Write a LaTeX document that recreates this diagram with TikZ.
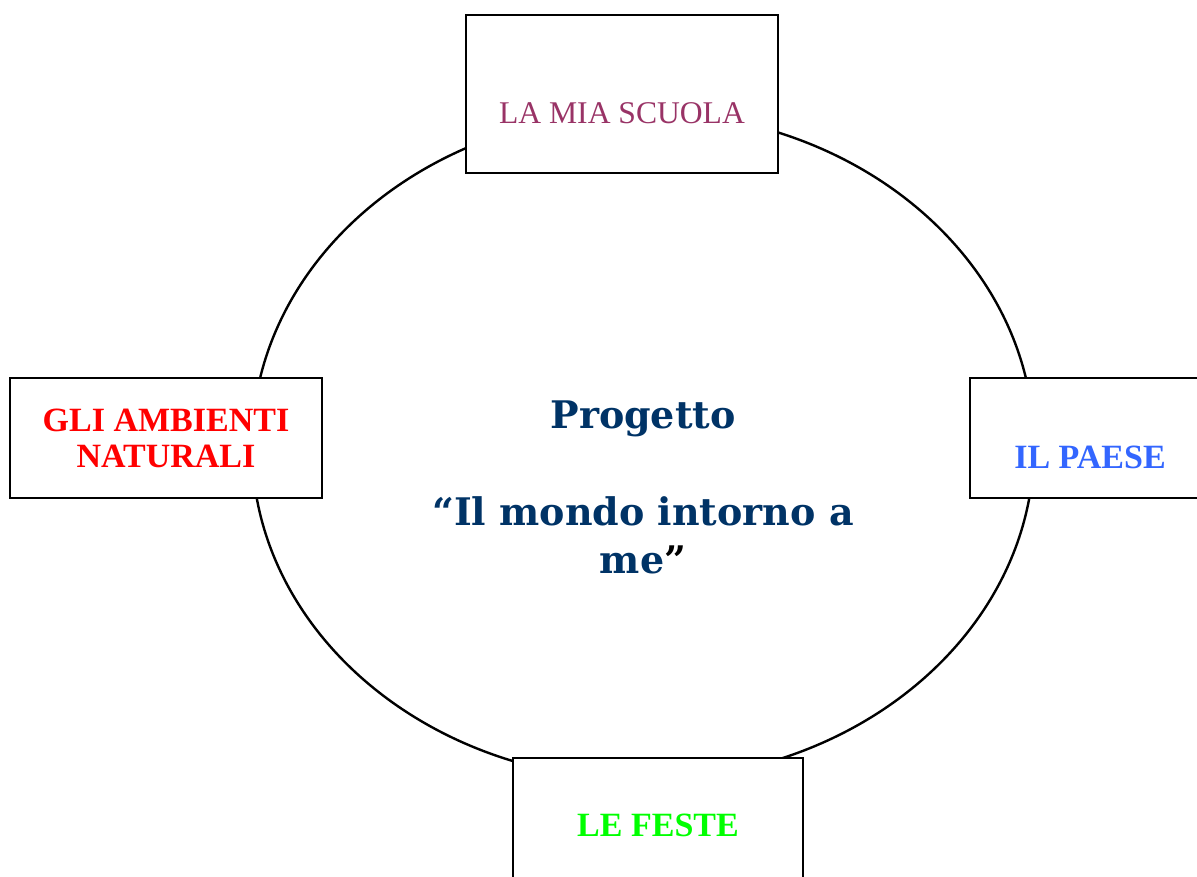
\documentclass[tikz,border=0pt]{standalone}
\usepackage{fontspec}
\setmainfont{Liberation Serif}
\newfontfamily\titolofont{DejaVu Serif}
\usetikzlibrary{shapes.geometric}

\definecolor{viola}{HTML}{993366}
\definecolor{blupaese}{HTML}{3366FF}
\definecolor{verde}{HTML}{00FF00}
\definecolor{blunotte}{HTML}{003366}

\begin{document}
\begin{tikzpicture}[x=1pt,y=-1pt]

        \useasboundingbox (0,0) rectangle (1197,877);
        \clip (0,0) rectangle (1197,877);

        \node (mondo) [draw, ellipse, line width=2.4pt, inner sep=0,
          minimum width=782pt, minimum height=668pt] at (643,446) {};

        \node (progetto) [align=center, text=blunotte,
          font=\titolofont\bfseries\fontsize{38}{47.5}\selectfont] at (643,487)
          {Progetto\\[50pt]“Il mondo intorno a\\me\textcolor{black}{”}};

        \begin{scope}[every node/.style={draw, fill=white, line width=2.6pt, inner sep=0}]
          \node (scuola)   [minimum width=312pt, text height=109pt, text depth=49pt,
            text=viola, font=\fontsize{31.6}{36}\selectfont] at (622,94) {LA MIA SCUOLA};
          \node (ambienti) [minimum width=312pt, minimum height=120pt, align=center,
            text=red, font=\bfseries\fontsize{34}{36}\selectfont] at (166,438) {GLI AMBIENTI\\NATURALI};
          \node (paese)    [minimum width=240pt, text height=90pt, text depth=30pt,
            text=blupaese, font=\bfseries\fontsize{34}{36}\selectfont] at (1090,438) {IL PAESE};
          \node (feste)    [minimum width=290pt, text height=78pt, text depth=82pt,
            text=verde, font=\bfseries\fontsize{34}{36}\selectfont] at (658,838) {LE FESTE};
        \end{scope}

      \end{tikzpicture}
\end{document}
